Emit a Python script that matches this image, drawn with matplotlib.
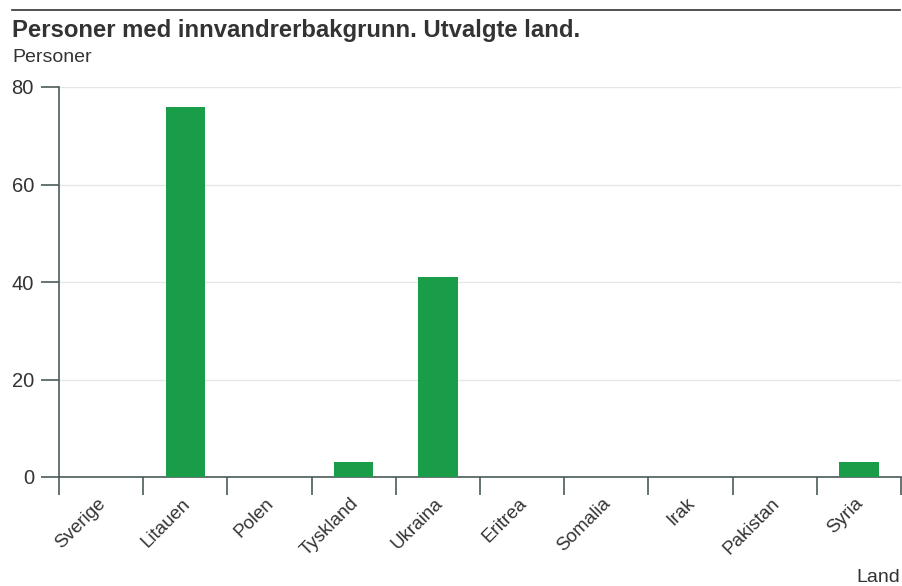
import matplotlib
matplotlib.use("Agg")
import matplotlib.pyplot as plt
import matplotlib.transforms as mtransforms
import numpy as np

countries = ["Sverige", "Litauen", "Polen", "Tyskland", "Ukraina",
             "Eritrea", "Somalia", "Irak", "Pakistan", "Syria"]
persons = [0, 76, 0, 3, 41, 0, 0, 0, 0, 3]
y_ticks = [0, 20, 40, 60, 80]

TEXT = "#333333"
AXIS = "#4d5a5a"
BAR = "#1a9d49"

plt.rcParams["font.family"] = ["Liberation Sans", "DejaVu Sans"]

fig = plt.figure(figsize=(9.02, 5.86), dpi=100)
ax = fig.add_axes([59 / 902, 109 / 586, 842 / 902, 390 / 586])

x = np.arange(len(countries))
ax.bar(x, persons, width=0.47, color=BAR, zorder=3)

ax.set_xlim(-0.5, len(countries) - 0.5)
ax.set_ylim(0, 80)
ax.set_yticks(y_ticks)
ax.set_yticklabels([str(v) for v in y_ticks], fontsize=14.5, color=TEXT)
ax.yaxis.grid(True, color="#e6e6e6", linewidth=1, zorder=0)

# ticks between categories, labels at centres
ax.set_xticks(np.arange(len(countries) + 1) - 0.5)
ax.set_xticklabels([])
ax.set_xticks(x, minor=True)
ax.set_xticklabels(countries, minor=True, rotation=45, ha="right",
                   rotation_mode="anchor", fontsize=13.5, color=TEXT)
ax.tick_params(axis="x", which="minor", length=0, pad=13)
ax.tick_params(axis="x", which="major", length=13, width=1.2, color=AXIS, direction="out")
ax.tick_params(axis="y", length=13, width=1.2, color=AXIS, pad=5)

# nudge rotated labels a few px left
shift = mtransforms.ScaledTranslation(-4 / 100, 0, fig.dpi_scale_trans)
for lbl in ax.get_xticklabels(minor=True):
    lbl.set_transform(lbl.get_transform() + shift)

for side in ["top", "right"]:
    ax.spines[side].set_visible(False)
for side in ["left", "bottom"]:
    ax.spines[side].set_color(AXIS)
    ax.spines[side].set_linewidth(1.2)

# header
fig.add_artist(plt.Line2D([12 / 902, 900 / 902], [1 - 10 / 586, 1 - 10 / 586],
                          color="#333333", linewidth=1.2))
fig.text(12 / 902, 1 - 30 / 586, "Personer med innvandrerbakgrunn. Utvalgte land.",
         fontsize=17.2, fontweight="bold", color=TEXT, va="center")
fig.text(12 / 902, 1 - 57 / 586, "Personer", fontsize=14, color=TEXT, va="center")
fig.text(900 / 902, 1 - 577 / 586, "Land", fontsize=14, color=TEXT, va="center", ha="right")

fig.savefig("out.png", dpi=100)
